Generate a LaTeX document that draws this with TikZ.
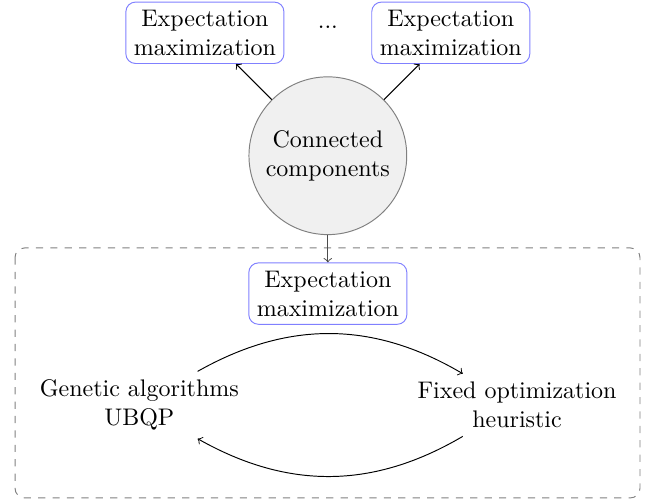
\documentclass[tikz,border=0pt]{standalone}
\usepackage{tikz}
\usetikzlibrary{arrows,positioning}

\begin{document}
\begin{tikzpicture}[x=1cm, y=1cm, emstep/.style={draw=blue!50, rounded corners, align=center}, comp/.style={circle, draw=gray, fill=gray!12, minimum size=2.31cm, align=center}, plain/.style={align=center}]
				\useasboundingbox (-4.80,2.28) rectangle (4.79,-5.05);
				\node [comp] (cc) {Connected\\components};
				\node [emstep] (em1) at (-1.8,1.8) {Expectation\\maximization};
				\node (dots) at (0,1.88) {...};
				\node [emstep] (em2) at (1.8,1.8) {Expectation\\maximization};
				\path [->] (cc) edge (em1);
				\path [->] (cc) edge (em2);
				
				% inner loop
				\draw [gray, dashed, rounded corners] (-4.58,-1.35) rectangle (4.57,-5.01);
				\node [emstep, below=0.4cm of cc] (em0) {Expectation\\maximization};
				\path [->, black!70] (cc) edge (em0);
				
				\node [plain] (ga) at (-2.76,-3.65) {Genetic algorithms\\UBQP};
				\node [plain] (fo) at (2.77,-3.65) {Fixed optimization\\heuristic};
				\path [->] (ga) edge [bend left=30] (fo);
				\path [->] (fo) edge [bend left=30] (ga);
			\end{tikzpicture}
\end{document}
